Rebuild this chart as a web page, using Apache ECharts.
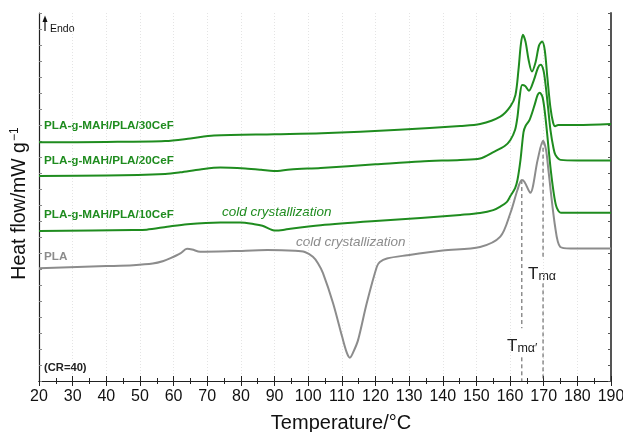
<!DOCTYPE html>
<html>
<head>
<meta charset="utf-8">
<script src="https://cdn.jsdelivr.net/npm/echarts@6/dist/echarts.min.js"></script>
<style>
  html, body { margin: 0; padding: 0; background: #fff; }
  #chart { width: 623px; height: 432px; }
</style>
</head>
<body>
<div id="chart"></div>
<script>
// DSC heating scans (CR=40), heat flow curves stacked with vertical offsets
const xTicks = [20, 30, 40, 50, 60, 70, 80, 90, 100, 110, 120, 130, 140, 150, 160, 170, 180, 190];

const tempPLA = [20, 40, 48, 53.8, 57, 59.1, 62, 64, 65.5, 67.9, 77.8, 87.9, 96, 99, 101.4, 102.9, 104.4, 107.4, 110.1, 111.5, 112.4, 113.3, 114.8, 117.4, 120.4, 121.3, 123.4, 129.4, 140, 151.1, 157.1, 160.1, 162.2, 163.5, 164.3, 166.0, 168.2, 169.8, 170.7, 171.4, 173.4, 174.9, 178, 190];
const flowPLA = [3.52, 3.59, 3.62, 3.67, 3.75, 3.84, 3.99, 4.13, 4.11, 4.04, 4.06, 4.09, 4.07, 4.03, 3.88, 3.68, 3.37, 2.43, 1.38, 0.88, 0.73, 0.88, 1.27, 2.43, 3.57, 3.72, 3.83, 3.93, 4.08, 4.19, 4.51, 5.25, 5.97, 6.28, 6.22, 5.88, 6.91, 7.51, 7.22, 6.59, 4.82, 4.19, 4.14, 4.14];

const temp10 = [20, 48, 52, 58.1, 64.1, 73.9, 79.8, 84, 86.4, 90.3, 92.5, 94.7, 103.7, 120, 133.4, 145.2, 151.1, 155, 157.1, 159, 160.1, 161.5, 162.2, 163.1, 164.0, 164.6, 165.8, 167.3, 168.2, 168.8, 169.7, 170.6, 172.1, 173.2, 173.9, 175.1, 180, 190];
const flow10 = [4.69, 4.72, 4.73, 4.82, 4.90, 4.95, 4.95, 4.90, 4.85, 4.70, 4.72, 4.76, 4.87, 5.00, 5.09, 5.19, 5.25, 5.34, 5.45, 5.59, 5.78, 6.03, 6.28, 6.91, 7.78, 7.97, 8.16, 8.63, 8.94, 9.01, 8.85, 8.16, 6.59, 5.72, 5.41, 5.26, 5.26, 5.26];

const temp20 = [20, 40, 57.5, 62, 67.9, 73.9, 81.3, 86, 89.7, 94.7, 103.7, 120, 133.4, 145.2, 151.1, 155.2, 158.5, 160.1, 161.5, 162.2, 162.9, 163.6, 164.5, 165.6, 167.1, 168.3, 169.1, 169.9, 170.5, 171.3, 172.0, 172.9, 173.5, 175.0, 180, 190];
const flow20 = [6.41, 6.42, 6.47, 6.52, 6.61, 6.67, 6.64, 6.60, 6.56, 6.61, 6.66, 6.77, 6.86, 6.91, 6.95, 7.16, 7.35, 7.53, 7.85, 8.25, 8.91, 9.25, 9.22, 9.07, 9.41, 9.79, 9.88, 9.72, 9.31, 8.54, 7.85, 7.28, 7.06, 6.91, 6.89, 6.89];

const temp30 = [20, 40, 57.5, 65, 72, 90, 104, 127, 145.2, 151.1, 157.1, 160.1, 161.6, 162.5, 163.2, 163.8, 164.6, 165.5, 166.5, 167.6, 168.6, 169.5, 170.3, 171.1, 172.0, 172.8, 173.4, 174.3, 180, 190];
const flow30 = [7.46, 7.47, 7.50, 7.58, 7.67, 7.71, 7.74, 7.85, 7.97, 8.03, 8.26, 8.58, 8.94, 9.72, 10.51, 10.82, 10.60, 10.04, 9.67, 9.97, 10.48, 10.61, 10.35, 9.47, 8.54, 8.07, 7.96, 8.00, 8.00, 8.03];

// melting peak temperatures of neat PLA (Tmα′, Tmα) and gaps for their labels
const peakTemps = [163.5, 169.8];
const peakFlows = [6.28, 7.51];
const gapRanges = [[0.74, 1.65], [3.05, 3.83]];

const GREEN = '#1f8c1f';
const GREY = '#8c8c8c';
const FONT = 'Liberation Sans, Arial, sans-serif';

function zip(xs, ys) { return xs.map((x, i) => [x, ys[i]]); }

function curve(name, xs, ys, color) {
  return {
    name, type: 'line', data: zip(xs, ys), showSymbol: false, symbol: 'none',
    smooth: 0.3,
    lineStyle: { color, width: 2, join: 'round' }, z: 3, silent: true
  };
}

function dashed(x, y0, y1) {
  return {
    type: 'line', data: [[x, y0], [x, y1]], showSymbol: false, symbol: 'none',
    lineStyle: { color: '#555', width: 1, type: [4, 3] }, z: 2, silent: true
  };
}

const dashSeries = [];
peakTemps.forEach((t, i) => {
  dashSeries.push(dashed(t, peakFlows[i], gapRanges[i][1]));
  dashSeries.push(dashed(t, gapRanges[i][0], 0));
});

const chart = echarts.init(document.getElementById('chart'), null, { renderer: 'canvas' });

const tickStyle = { show: true, inside: true, length: 5, lineStyle: { color: '#222', width: 1 } };
const minorStyle = { show: true, splitNumber: 2, length: 3, lineStyle: { color: '#222', width: 1 } };

chart.setOption({
  animation: false,
  backgroundColor: '#fff',
  grid: { left: 39, right: 12, top: 13, bottom: 51, show: false, outerBoundsMode: 'none', containLabel: false },
  xAxis: [{
    type: 'value', min: 20, max: 190, interval: 10, position: 'bottom',
    name: 'Temperature/\u00B0C', nameLocation: 'middle', nameGap: 32,
    nameTextStyle: { fontFamily: FONT, fontSize: 20, color: '#111', padding: [0, 0, 0, 32] },
    axisLine: { show: true, lineStyle: { color: '#222', width: 1.2 } },
    axisTick: tickStyle, minorTick: minorStyle,
    axisLabel: { fontFamily: FONT, fontSize: 16, color: '#111', margin: 8,
      formatter: v => xTicks.includes(v) ? String(v) : '' },
    splitLine: { show: true, lineStyle: { color: '#e4e4e4', width: 1, type: [1, 2] } }
  }, {
    type: 'value', min: 20, max: 190, interval: 10, position: 'top',
    axisLine: { show: true, lineStyle: { color: '#222', width: 1.2 } },
    axisTick: tickStyle, minorTick: minorStyle,
    axisLabel: { show: false }, splitLine: { show: false }
  }],
  yAxis: [{
    type: 'value', min: 0, max: 11.5, interval: 0.5, position: 'left',
    name: '{a|Heat flow/mW g}{s|\u22121}', nameLocation: 'middle', nameGap: 9,
    nameRotate: 90,
    nameTextStyle: {
      padding: [0, 13, 0, 0],
      rich: {
        a: { fontFamily: FONT, fontSize: 19.5, color: '#111' },
        s: { fontFamily: FONT, fontSize: 12, color: '#111', verticalAlign: 'top', padding: [0, 0, 9, 1] }
      }
    },
    axisLine: { show: true, lineStyle: { color: '#222', width: 1.2 } },
    axisTick: { show: true, inside: true, length: 3, lineStyle: { color: '#888', width: 1 } },
    axisLabel: { show: false }, splitLine: { show: false }
  }, {
    type: 'value', min: 0, max: 11.5, interval: 0.5, position: 'right',
    axisLine: { show: true, lineStyle: { color: '#555', width: 2 } },
    axisTick: { show: true, inside: true, length: 3, lineStyle: { color: '#555', width: 1 } },
    axisLabel: { show: false }, splitLine: { show: false }
  }],
  series: [
    ...dashSeries,
    curve('PLA', tempPLA, flowPLA, GREY),
    curve('PLA-g-MAH/PLA/10CeF', temp10, flow10, GREEN),
    curve('PLA-g-MAH/PLA/20CeF', temp20, flow20, GREEN),
    curve('PLA-g-MAH/PLA/30CeF', temp30, flow30, GREEN)
  ],
  graphic: [
    // endothermic direction marker
    { type: 'line', shape: { x1: 45, y1: 31, x2: 45, y2: 20 }, style: { stroke: '#111', lineWidth: 1.2 } },
    { type: 'polygon', shape: { points: [[42.5, 22], [45, 15.5], [47.5, 22]] }, style: { fill: '#111' } },
    { type: 'text', left: 50, top: 24, style: { text: 'Endo', fontFamily: FONT, fontSize: 10.5, fill: '#111' } },
    // sample labels
    { type: 'text', left: 44, top: 120, style: { text: 'PLA-g-MAH/PLA/30CeF', fontFamily: FONT, fontSize: 11.7, fontWeight: 'bold', fill: GREEN } },
    { type: 'text', left: 44, top: 155, style: { text: 'PLA-g-MAH/PLA/20CeF', fontFamily: FONT, fontSize: 11.7, fontWeight: 'bold', fill: GREEN } },
    { type: 'text', left: 44, top: 209, style: { text: 'PLA-g-MAH/PLA/10CeF', fontFamily: FONT, fontSize: 11.7, fontWeight: 'bold', fill: GREEN } },
    { type: 'text', left: 44, top: 251, style: { text: 'PLA', fontFamily: FONT, fontSize: 11.7, fontWeight: 'bold', fill: GREY } },
    { type: 'text', left: 44, top: 362, style: { text: '(CR=40)', fontFamily: FONT, fontSize: 11.2, fontWeight: 'bold', fill: '#222' } },
    // cold crystallization annotations
    { type: 'text', left: 222, top: 205, style: { text: 'cold crystallization', fontFamily: FONT, fontSize: 13.5, fontStyle: 'italic', fill: GREEN } },
    { type: 'text', left: 296, top: 235, style: { text: 'cold crystallization', fontFamily: FONT, fontSize: 13.5, fontStyle: 'italic', fill: GREY } },
    // melting peak labels
    { type: 'text', left: 528, top: 266, style: {
      text: '{t|T}{m|m\u03B1}', fill: '#222',
      rich: { t: { fontFamily: FONT, fontSize: 17, color: '#222' }, m: { fontFamily: FONT, fontSize: 12.5, color: '#222', padding: [4, 0, 0, 0] } } } },
    { type: 'text', left: 507, top: 338, style: {
      text: '{t|T}{m|m\u03B1\u2032}', fill: '#222',
      rich: { t: { fontFamily: FONT, fontSize: 17, color: '#222' }, m: { fontFamily: FONT, fontSize: 12.5, color: '#222', padding: [4, 0, 0, 0] } } } }
  ]
});
</script>
</body>
</html>
